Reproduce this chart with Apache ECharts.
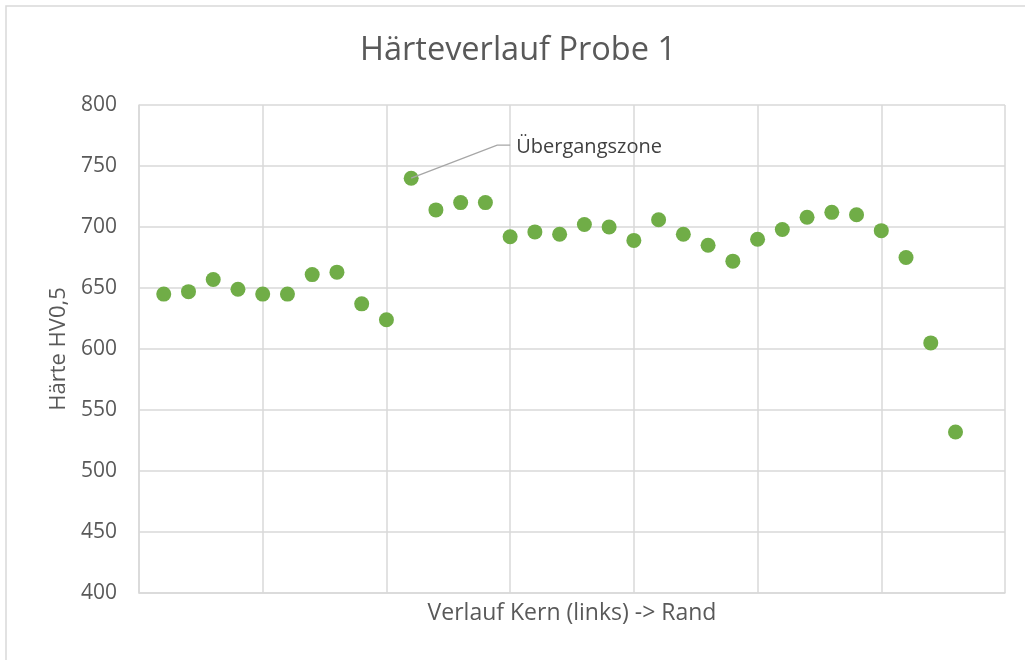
<!DOCTYPE html>
<html><head><meta charset="utf-8">
<script src="https://cdn.jsdelivr.net/npm/echarts@6/dist/echarts.min.js"></script>
<style>html,body{margin:0;padding:0;background:#fff}#c{width:1025px;height:660px}</style>
</head><body><div id="c"></div>
<script>
const positions = [1,2,3,4,5,6,7,8,9,10,11,12,13,14,15,16,17,18,19,20,21,22,23,24,25,26,27,28,29,30,31,32,33];
const hardness = [645,647,657,649,645,645,661,663,637,624,740,714,720,720,692,696,694,702,700,689,706,694,685,672,690,698,708,712,710,697,675,605,532];
const yTicks = [400,450,500,550,600,650,700,750,800];
const annotationIndex = 10;
const annotationText = 'Übergangszone';

const F = '"Open Sans", sans-serif';
const chart = echarts.init(document.getElementById('c'));
chart.setOption({
  animation: false,
  title: {text: 'Härteverlauf Probe 1', left: 355, top: 29,
    textStyle: {fontFamily: F, fontSize: 32.5, fontWeight: 'normal', color: '#595959'}},
  grid: {left: 139, right: 20, top: 105, bottom: 67},
  xAxis: {type: 'value', min: 0, max: 35, interval: 5,
    name: 'Verlauf Kern (links) -> Rand', nameLocation: 'middle', nameGap: 9,
    nameTextStyle: {fontFamily: F, fontSize: 23, color: '#595959', verticalAlign: 'top'},
    axisLabel: {show: false}, axisTick: {show: false},
    axisLine: {show: true, lineStyle: {color: '#d9d9d9', width: 1.5}},
    splitLine: {show: true, lineStyle: {color: '#d9d9d9', width: 1.5}}},
  yAxis: {type: 'value', min: yTicks[0], max: yTicks[yTicks.length-1], interval: 50,
    name: 'Härte HV0,5', nameLocation: 'middle', nameGap: 67, nameRotate: 90,
    nameTextStyle: {fontFamily: F, fontSize: 22, color: '#595959'},
    axisLabel: {fontFamily: F, fontSize: 21, color: '#595959', margin: 22},
    axisTick: {show: false},
    axisLine: {show: true, lineStyle: {color: '#d9d9d9', width: 1.5}},
    splitLine: {show: true, lineStyle: {color: '#d9d9d9', width: 1.5}}},
  series: [{type: 'scatter', symbolSize: 15,
    itemStyle: {color: '#70AD47', opacity: 1},
    data: positions.map((p, i) => [p, hardness[i]])}]
});
const pt = chart.convertToPixel({seriesIndex: 0}, [positions[annotationIndex], hardness[annotationIndex]]);
chart.setOption({graphic: [
  {type: 'rect', shape: {x: 6, y: 6, width: 1100, height: 700}, style: {fill: null, stroke: '#d9d9d9', lineWidth: 1.5}, silent: true},
  {type: 'polyline', shape: {points: [[pt[0], pt[1]], [pt[0] + 86, pt[1] - 33], [pt[0] + 99, pt[1] - 33]]},
    style: {stroke: '#a6a6a6', lineWidth: 1.3, fill: null}, z: 10},
  {type: 'text', x: pt[0] + 105, y: pt[1] - 31,
    style: {text: annotationText, font: '20px ' + F, fill: '#404040', textVerticalAlign: 'middle'}, z: 10}
]});
</script></body></html>
